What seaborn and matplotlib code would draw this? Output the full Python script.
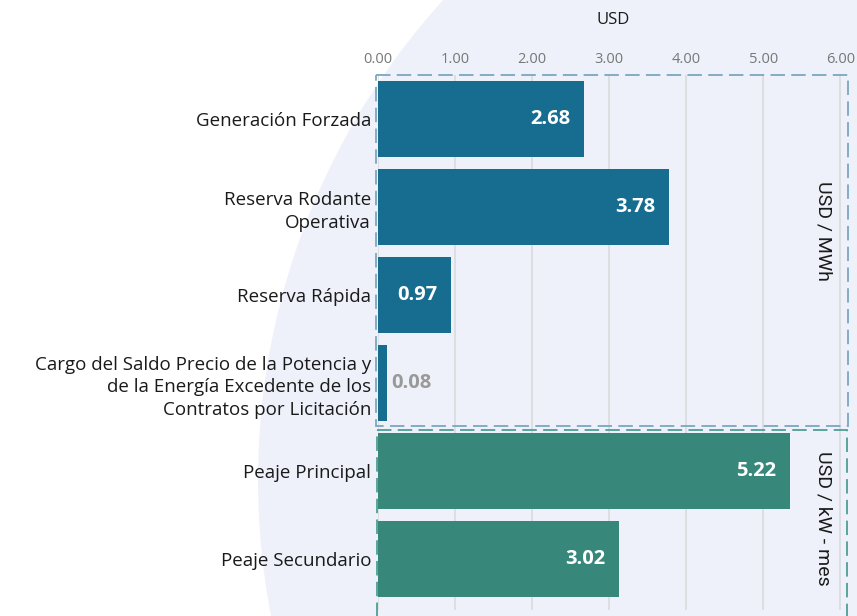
import matplotlib
matplotlib.use("Agg")
import matplotlib.pyplot as plt
import seaborn as sns
import pandas as pd
from matplotlib.patches import Ellipse, Rectangle

categories = [
    "Generación Forzada",
    "Reserva Rodante\nOperativa",
    "Reserva Rápida",
    "Cargo del Saldo Precio de la Potencia y\nde la Energía Excedente de los\nContratos por Licitación",
    "Peaje Principal",
    "Peaje Secundario",
]
groups = ["MWh", "MWh", "MWh", "MWh", "kW", "kW"]
bar_lengths = [2.68, 3.78, 0.95, 0.12, 5.35, 3.13]
value_labels = ["2.68", "3.78", "0.97", "0.08", "5.22", "3.02"]
ticks = [0, 1, 2, 3, 4, 5, 6]
tick_labels = ["0.00", "1.00", "2.00", "3.00", "4.00", "5.00", "6.00"]
unit_labels = ["USD / MWh", "USD / kW - mes"]

sns.set_theme(style="white")
plt.rcParams["font.family"] = ["Open Sans", "DejaVu Sans"]

W, H = 857, 616
fig = plt.figure(figsize=(W / 100, H / 100), dpi=100)
fig.patch.set_facecolor("white")

# background circle
cx, cy, R = 973, 480, 715
fig.patches.append(Ellipse((cx / W, 1 - cy / H), 2 * R / W, 2 * R / H,
                           transform=fig.transFigure, facecolor="#eef1f9",
                           edgecolor="none", zorder=0))

left_px, right_px = 378, 848
top_px, bot_px = 75, 610
ax = fig.add_axes([left_px / W, 1 - bot_px / H, (right_px - left_px) / W, (bot_px - top_px) / H])
ax.set_facecolor("none")
ax.set_zorder(1)

df = pd.DataFrame({"cat": categories, "val": bar_lengths, "grp": groups})
palette = {"MWh": "#176d8f", "kW": "#37877b"}
sns.barplot(data=df, y="cat", x="val", hue="grp", palette=palette, orient="h",
            width=0.86, dodge=False, legend=False, ax=ax, saturation=1, zorder=3,
            linewidth=0)

ax.set_xlim(0, 6.1)
ax.set_ylim(5.58, -0.5)
for t in ticks:
    ax.axvline(t, color="#dcdde0", lw=1.3, zorder=1)

ax.xaxis.tick_top()
ax.set_xticks(ticks)
ax.set_xticklabels(tick_labels, fontsize=10.5, color="#777777")
ax.tick_params(axis="x", length=0, pad=6)
ax.tick_params(axis="y", length=0, pad=5)
for lab in ax.get_yticklabels():
    lab.set_fontsize(13.5)
    lab.set_color("#1a1a1a")
    lab.set_horizontalalignment("right")
    lab.set_multialignment("right")
    lab.set_linespacing(1.35)
ax.set_ylabel("")
ax.set_xlabel("USD", fontsize=12, color="#1a1a1a", labelpad=20)
ax.xaxis.set_label_position("top")
for s in ax.spines.values():
    s.set_visible(False)

# value labels
for i, (v, lab) in enumerate(zip(bar_lengths, value_labels)):
    if v > 0.5:
        ax.text(v - 0.18, i, lab, ha="right", va="center", color="white",
                fontsize=14.5, fontweight="bold", zorder=5)
    else:
        ax.text(v + 0.05, i, lab, ha="left", va="center", color="#999999",
                fontsize=14.5, fontweight="bold", zorder=5)

# dashed group boxes
ax.add_patch(Rectangle((-0.026, -0.5), 6.126, 3.99, fill=False, ls=(0, (8, 3.5)),
                       lw=1.3, edgecolor="#7aa6bf", clip_on=False, zorder=4))
ax.add_patch(Rectangle((-0.01, 3.53), 6.1, 2.3, fill=False, ls=(0, (8, 3.5)),
                       lw=1.3, edgecolor="#4f9d94", clip_on=False, zorder=4))

ax.text(5.78, 1.27, unit_labels[0], rotation=270, ha="center", va="center",
        fontsize=14, color="#1a1a1a", family=["Roboto", "DejaVu Sans"], zorder=5)
ax.text(5.78, 4.54, unit_labels[1], rotation=270, ha="center", va="center",
        fontsize=14, color="#1a1a1a", family=["Roboto", "DejaVu Sans"], zorder=5)

fig.savefig("out.png", dpi=100)
